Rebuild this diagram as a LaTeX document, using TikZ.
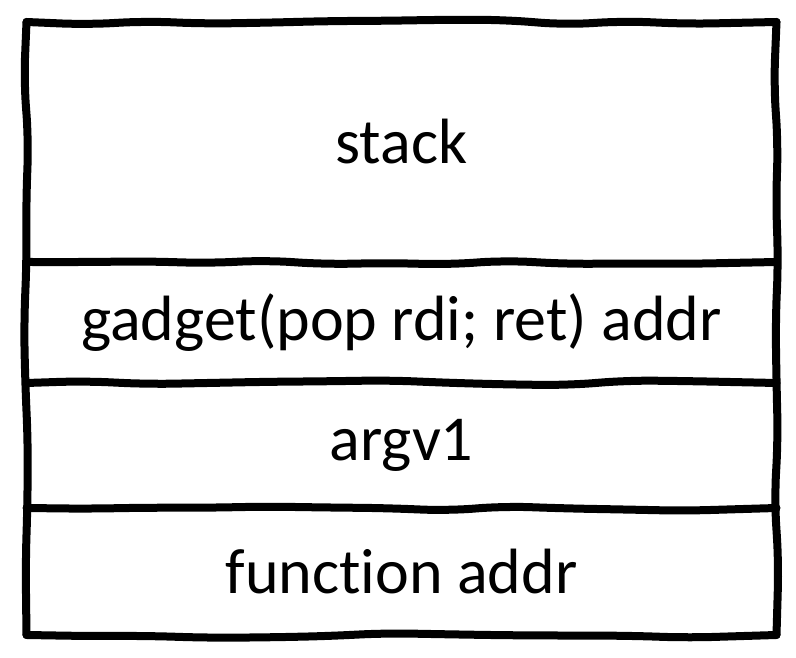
\documentclass[tikz,border=0pt]{standalone}
\usepackage{fontspec}
\setmainfont[Ligatures=NoCommon]{Carlito}
\usetikzlibrary{positioning,decorations.pathmorphing}
\begin{document}
\begin{tikzpicture}[x=1pt,y=1pt,
  cell/.style={minimum width=750pt,inner sep=0pt,outer sep=0pt,
    font=\fontsize{64}{70}\selectfont},
  wob/.style={line width=8pt,line cap=round,decorate,
    decoration={random steps,segment length=60pt,amplitude=2.8pt},
    rounded corners=25pt}]
\useasboundingbox (0,0) rectangle (796,658);
\node[cell,minimum height=240pt] (stack) at (401.5,516) {stack};
\node[cell,minimum height=121pt,below=0pt of stack] (gadget) {gadget(pop rdi; ret) addr};
\node[cell,minimum height=125pt,below=0pt of gadget] (argv) {argv1};
\node[cell,minimum height=127pt,below=0pt of argv] (func) {function addr};
% hand drawn frame
\draw[wob] (stack.north west) -- (func.south west);
\draw[wob] (stack.north east) -- (func.south east);
\foreach \n in {stack,gadget,argv,func}
  \draw[wob] (\n.south west) -- (\n.south east);
\draw[wob] (stack.north west) -- (stack.north east);
\end{tikzpicture}
\end{document}
